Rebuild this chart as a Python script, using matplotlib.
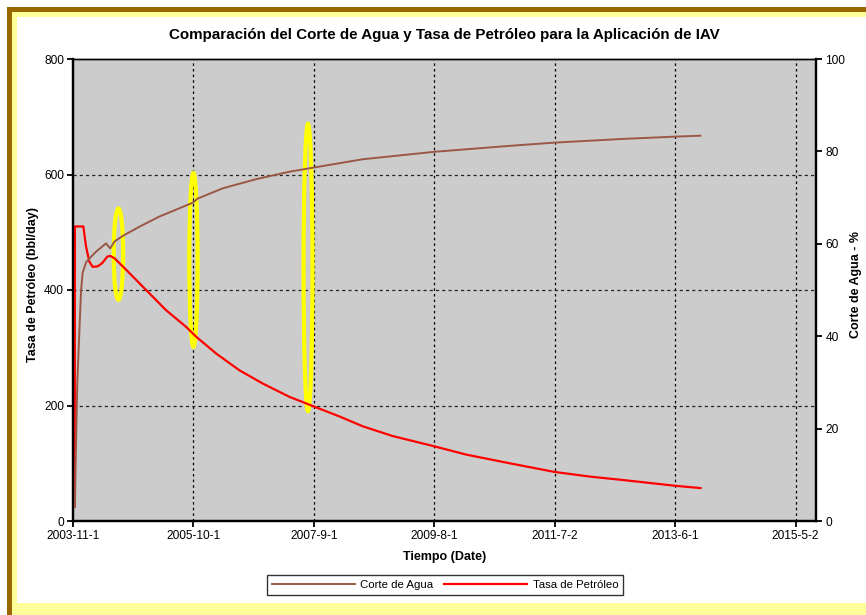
import matplotlib
matplotlib.use('Agg')
import matplotlib.pyplot as plt
import matplotlib.dates as mdates
from matplotlib.patches import Ellipse, Rectangle
import pandas as pd

# --- data ---
oil_dates = ['2003-11-11', '2003-11-12', '2003-12-31', '2004-01-16', '2004-02-04',
             '2004-02-24', '2004-03-24', '2004-04-20', '2004-05-19', '2004-06-05',
             '2004-06-29', '2004-09-05', '2004-12-30', '2005-04-25', '2005-08-20',
             '2005-10-17', '2006-02-10', '2006-06-25', '2006-11-08', '2007-04-12',
             '2007-08-26', '2008-01-28', '2008-06-11', '2008-12-03', '2009-07-23',
             '2010-02-02', '2010-10-12', '2011-06-30', '2012-01-19', '2012-07-31',
             '2013-06-01', '2013-10-26']
oil_rate = [25, 510, 510, 475, 449, 440, 441, 447, 458, 459, 455, 435, 400, 365, 336,
            319, 290, 261, 238, 215, 199, 181, 164, 147, 130, 115, 100, 85, 77, 71,
            61, 57]

wc_dates = ['2003-11-12', '2003-11-16', '2003-11-26', '2003-12-08', '2003-12-18',
            '2003-12-27', '2004-01-16', '2004-02-14', '2004-03-14', '2004-04-22',
            '2004-05-11', '2004-06-04', '2004-06-29', '2004-08-16', '2004-11-21',
            '2005-03-17', '2005-07-12', '2005-09-27', '2005-10-26', '2006-03-20',
            '2006-10-01', '2007-04-12', '2007-08-31', '2008-06-11', '2009-07-29',
            '2010-10-12', '2011-06-30', '2012-07-31', '2013-06-01', '2013-10-26']
water_cut = [3, 12, 30, 41, 50, 53.7, 56, 57.2, 58.3, 59.5, 60.1, 59.0, 60.5, 61.7,
             63.7, 65.9, 67.7, 68.9, 69.8, 72.0, 74.0, 75.6, 76.5, 78.3, 79.9, 81.2,
             81.9, 82.7, 83.2, 83.4]

x_tick_labels = ['2003-11-1', '2005-10-1', '2007-9-1', '2009-8-1', '2011-7-2',
                 '2013-6-1', '2015-5-2']

# yellow highlight ellipses (date, centre in bbl/day, height in bbl/day, width in days)
hl_dates = ['2004-07-22', '2005-10-01', '2007-07-29']
hl_center = [462, 452, 439]
hl_height = [158, 301, 497]
hl_width = [55, 48, 52]

# --- figure ---
W, H = 866, 615
plt.rcParams['font.family'] = ['Liberation Sans', 'DejaVu Sans']
fig = plt.figure(figsize=(W / 100, H / 100), dpi=100, facecolor='white')

# decorative frame
def px_rect(x0, y0, x1, y1, color):
    fig.add_artist(Rectangle((x0 / W, 1 - y1 / H), (x1 - x0) / W, (y1 - y0) / H,
                             transform=fig.transFigure, facecolor=color,
                             edgecolor='none', zorder=0))

px_rect(7, 7, 12, H, '#996600')
px_rect(7, 7, W, 12, '#996600')
px_rect(12, 12, 17, H, '#FFFF99')
px_rect(12, 12, W, 17, '#FFFF99')
px_rect(12, 603, W, H, '#FFFF99')

left, right, top, bottom = 73.0, 816.3, 59, 521
ax1 = fig.add_axes([left / W, 1 - bottom / H, (right - left) / W, (bottom - top) / H])
ax1.set_facecolor('#CCCCCC')
ax2 = ax1.twinx()

t_oil = mdates.date2num(pd.to_datetime(oil_dates))
t_wc = mdates.date2num(pd.to_datetime(wc_dates))
t_ticks = mdates.date2num(pd.to_datetime(x_tick_labels))

red_line, = ax1.plot(t_oil, oil_rate, color='#FF0000', lw=1.6, zorder=3,
                     label='Tasa de Petróleo')
brown_line, = ax2.plot(t_wc, water_cut, color='#9B5746', lw=1.4, zorder=3,
                       label='Corte de Agua')

for d, c, h, w in zip(hl_dates, hl_center, hl_height, hl_width):
    ax1.add_patch(Ellipse((mdates.date2num(pd.Timestamp(d)), c), w, h, fill=False,
                          edgecolor='#FFFF00', lw=3.0, zorder=2))

ax1.set_xlim(t_ticks[0], t_ticks[0] + 4320)
ax1.set_ylim(0, 800)
ax2.set_ylim(0, 100)
ax1.set_xticks(t_ticks)
ax1.set_xticklabels(x_tick_labels)
ax1.set_yticks([0, 200, 400, 600, 800])
ax2.set_yticks([0, 20, 40, 60, 80, 100])

# grid
for t in t_ticks[1:]:
    ax1.axvline(t, color='black', lw=0.9, ls=(0, (2, 2.5)), zorder=1)
for v in [200, 400, 600]:
    ax1.axhline(v, color='#222222', lw=0.9, ls=(0, (2.5, 2.5)), zorder=1)

for ax in (ax1, ax2):
    for side in ['left', 'right', 'bottom']:
        ax.spines[side].set_linewidth(1.6)
        ax.spines[side].set_color('black')
    ax.spines['top'].set_linewidth(1.0)
    ax.tick_params(axis='both', labelsize=8.6, length=4.5, width=1.3, pad=2,
                   colors='black')

fig.text(444 / W, 1 - 35 / H,
         'Comparación del Corte de Agua y Tasa de Petróleo para la Aplicación de IAV',
         ha='center', va='center', fontsize=10.9, fontweight='bold')
fig.text(445 / W, 1 - 557 / H, 'Tiempo (Date)', ha='center', va='center',
         fontsize=9, fontweight='bold')
fig.text(33 / W, 1 - 285 / H, 'Tasa de Petróleo (bbl/day)', ha='center', va='center',
         rotation=90, fontsize=9, fontweight='bold')
fig.text(856 / W, 1 - 285 / H, 'Corte de Agua - %', ha='center', va='center',
         rotation=90, fontsize=9, fontweight='bold')

leg = fig.legend(handles=[brown_line, red_line], loc='center',
                 bbox_to_anchor=(445 / W, 1 - 585 / H), ncol=2, fontsize=8.2,
                 frameon=True, fancybox=False, handlelength=7.3, handletextpad=0.5,
                 columnspacing=0.9, borderpad=0.4)
leg.get_frame().set_edgecolor('black')
leg.get_frame().set_linewidth(1.0)
leg.get_frame().set_facecolor('white')

fig.savefig('out.png', dpi=100, facecolor='white')
